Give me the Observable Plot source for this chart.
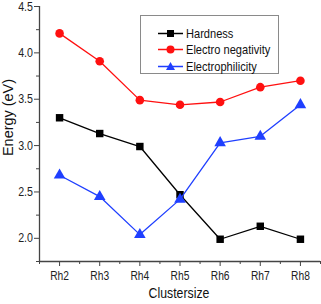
<!DOCTYPE html>
<html><head><meta charset="utf-8">
<script src="https://cdn.jsdelivr.net/npm/d3@7"></script>
<script src="https://cdn.jsdelivr.net/npm/@observablehq/plot@0.6"></script>
<style>
body{margin:0;background:#fff;font-family:"Liberation Sans",Arial,sans-serif;}
#wrap{position:relative;width:321px;height:304px;}
#legend{position:absolute;left:140px;top:15px;width:139px;height:59px;border:1px solid #8a8a8a;background:#fff;box-sizing:border-box;font-size:13.5px;color:#111;}
#legend .row{position:absolute;left:0;height:16px;display:flex;align-items:center;white-space:nowrap;}
#legend svg{margin-left:17px;margin-right:3px;}
#legend span{display:inline-block;transform:scaleX(0.82);transform-origin:left center;}
</style></head>
<body><div id="wrap"><div id="chart"></div><div id="legend"></div></div>
<script>
const clusters = ["Rh2","Rh3","Rh4","Rh5","Rh6","Rh7","Rh8"];
const hardness = [3.30,3.13,2.99,2.47,1.99,2.13,1.99];
const electronegativity = [4.21,3.91,3.49,3.44,3.47,3.63,3.70];
const electrophilicity = [2.68,2.45,2.04,2.42,3.03,3.10,3.44];
const seriesNames = ["Hardness","Electro negativity","Electrophilicity"];
const seriesColors = ["#000000","#ff1010","#1f3fff"];
const seriesSymbols = ["square","circle","triangle"];
const yMajor = [2.0,2.5,3.0,3.5,4.0,4.5];
const yMinor = [1.75,2.25,2.75,3.25,3.75,4.25];

const allSeries = [hardness, electronegativity, electrophilicity];
const data = [];
allSeries.forEach((vals, s) => vals.forEach((v, i) => data.push({s: seriesNames[s], i: i + 1, v})));
const xMinor = d3.range(0.5, clusters.length + 1, 1);

const marks = [];
allSeries.forEach((vals, s) => {
  const d = data.filter(r => r.s === seriesNames[s]);
  marks.push(Plot.line(d, {x: "i", y: "v", stroke: seriesColors[s], strokeWidth: 1.3}));
  marks.push(Plot.dot(d, {x: "i", y: "v", fill: seriesColors[s], stroke: null, symbol: seriesSymbols[s], r: s === 0 ? 4.2 : 4.3}));
});

const chart = Plot.plot({
  width: 321, height: 304,
  marginLeft: 39, marginRight: 1, marginTop: 6, marginBottom: 43,
  style: {fontFamily: "Liberation Sans, Arial, sans-serif", fontSize: "12px", color: "#222"},
  x: {domain: [0.5, clusters.length + 0.5], axis: null},
  y: {domain: [1.75, 4.5], axis: null},
  marks: [
    Plot.axisY({ticks: yMajor, tickFormat: d3.format(".1f"), tickSize: 5, tickPadding: 1.5, label: null, stroke: "#444", fontSize: 13}),
    Plot.axisY({ticks: yMinor, tickSize: 3, tickFormat: () => "", label: null, stroke: "#444"}),
    Plot.axisX({ticks: d3.range(1, clusters.length + 1), tickFormat: i => clusters[i - 1], tickSize: 5, tickPadding: 5, label: null, stroke: "#444", fontSize: 12.5}),
    Plot.axisX({ticks: xMinor, tickSize: 3, tickFormat: () => "", label: null, stroke: "#444"}),
    Plot.ruleX([0.5], {stroke: "#444", strokeWidth: 1.3}),
    Plot.ruleY([1.75], {stroke: "#444", strokeWidth: 1.3}),
    ...marks,
    Plot.text(["Energy (eV)"], {frameAnchor: "left", dx: -31, dy: 22, rotate: -90, fontSize: 15, letterSpacing: 1.5, fill: "#111", className: "ylab"}),
    Plot.text(["Clustersize"], {frameAnchor: "bottom", dy: 36, dx: -1, fontSize: 15, fill: "#111"})
  ]
});
document.getElementById("chart").appendChild(chart);

// emulate the narrow Arial face of the original by condensing glyphs
chart.querySelectorAll("text").forEach(t => {
  const len = t.getComputedTextLength();
  if (len > 0) {
    const isY = t.closest(".ylab") !== null;
    t.setAttribute("textLength", isY ? 77 : (len * 0.82).toFixed(1));
    t.setAttribute("lengthAdjust", "spacingAndGlyphs");
  }
});

// legend
const leg = document.getElementById("legend");
seriesNames.forEach((n, s) => {
  const row = document.createElement("div");
  row.className = "row";
  row.style.top = (9 + s * 16.5) + "px";
  const sym = seriesSymbols[s] === "square" ? '<rect x="9" y="3" width="7" height="7"/>' :
              seriesSymbols[s] === "circle" ? '<circle cx="12.5" cy="6.5" r="4"/>' :
              '<path d="M12.5 2 L17 10 L8 10 Z"/>';
  row.innerHTML = `<svg width="25" height="13"><line x1="0" x2="25" y1="6.5" y2="6.5" stroke="${seriesColors[s]}" stroke-width="1.5"/><g fill="${seriesColors[s]}">${sym}</g></svg><span>${n}</span>`;
  leg.appendChild(row);
});
</script></body></html>
